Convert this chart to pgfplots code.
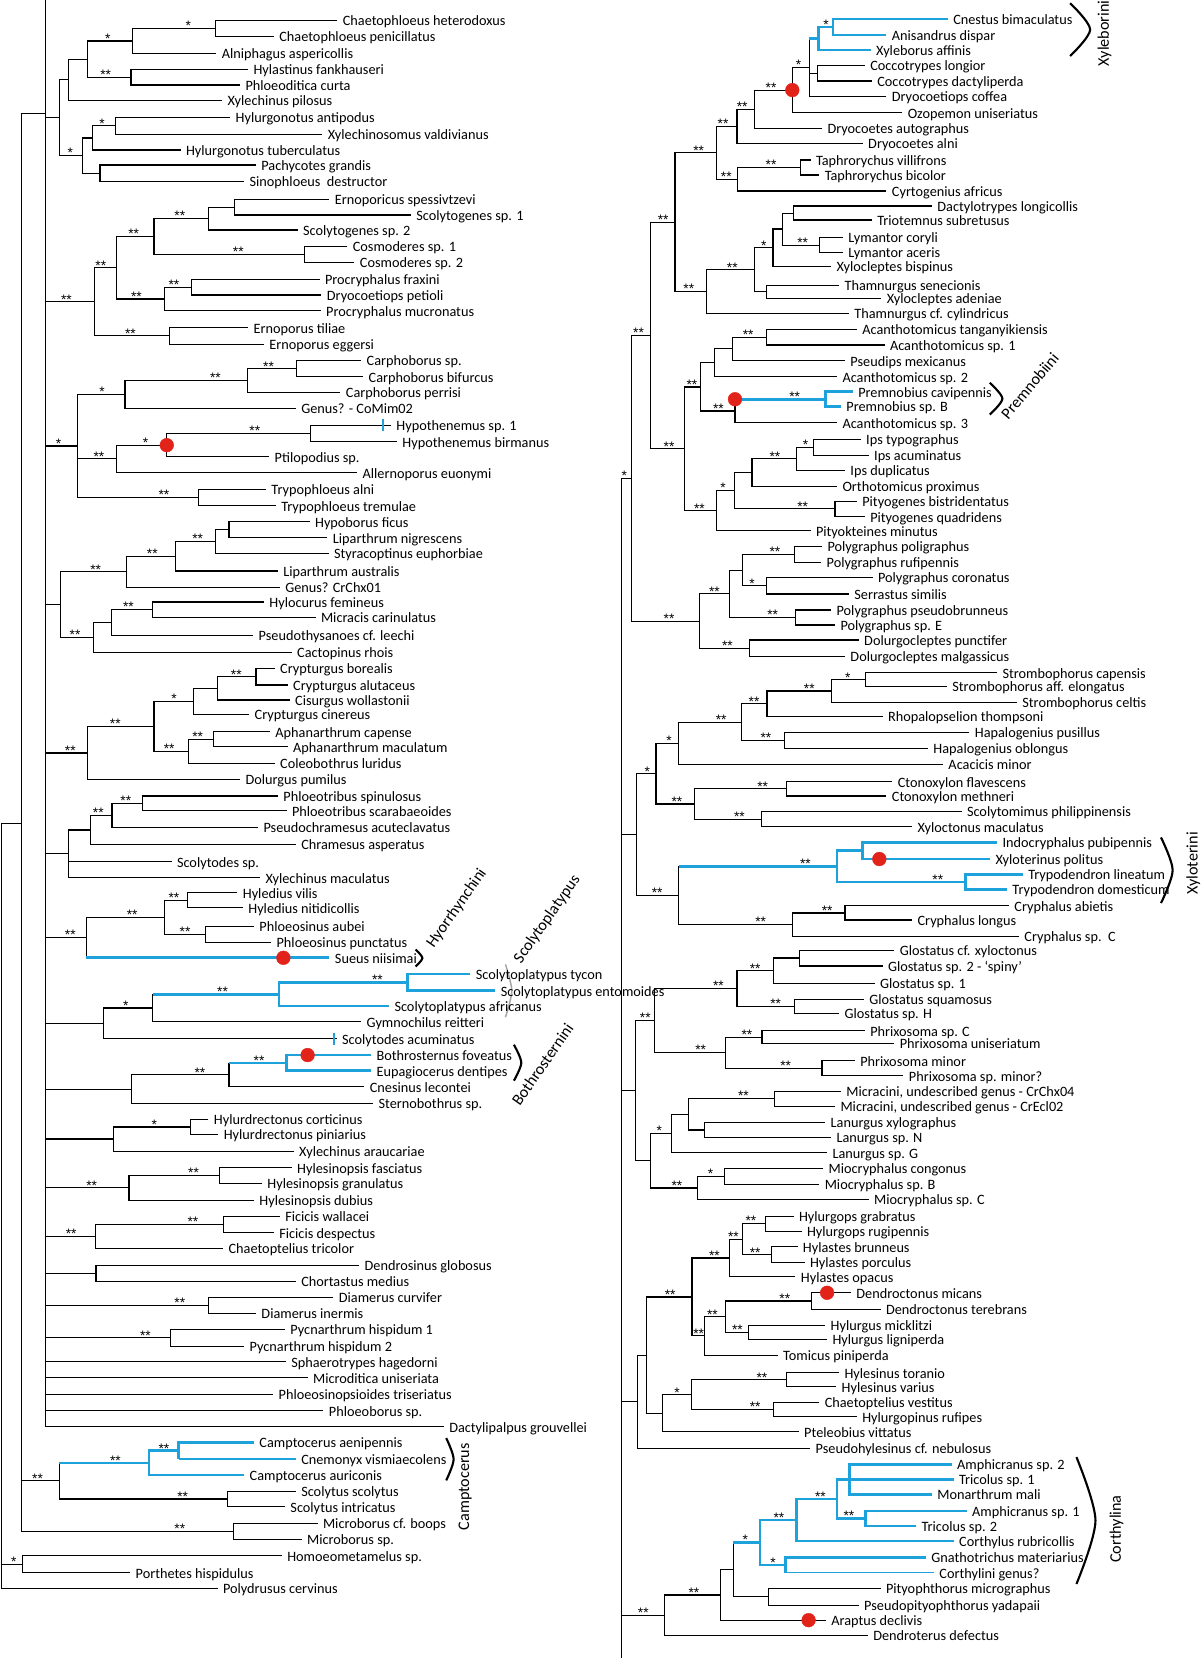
\documentclass[border=0pt]{standalone}
\usepackage{fontspec}
\setmainfont{Carlito}
\newfontfamily\starfam{Liberation Sans}
\usepackage{pgfplots}
\pgfplotsset{compat=1.18}
\definecolor{cblue}{RGB}{30,162,220}
\definecolor{cred}{RGB}{226,35,26}
\newcommand{\tipfont}{\fontsize{13.5}{14}\selectfont}
\newcommand{\starfont}{\starfam\fontsize{13}{13}\selectfont}
\newcommand{\cladefont}{\fontsize{15.3}{16}\selectfont}
\newcommand{\ds}{**}
\newcommand{\tl}[3]{\node[anchor=base west,inner sep=0pt,font=\tipfont,xshift=5pt,yshift=-5pt] at (axis cs:#1,#2) {#3};}
\newcommand{\st}[3]{\node[anchor=base,inner sep=0pt,font=\starfont,yshift=-2.2pt] at (axis cs:#1,#2) {#3};}
\begin{document}
\begin{tikzpicture}
\begin{axis}[scale only axis, width=1135pt, height=1568pt, xmin=0, xmax=1135, ymin=0, ymax=1568,
  y dir=reverse, hide axis, clip=false]
% ---------- left panel, black branches
\addplot[black, line width=1.05pt, mark=none, unbounded coords=jump, line join=miter] coordinates {
(319,19.5)(203.8,19.5)(203.8,34.7)(259,34.7)(nan,nan)
(203.8,27.1)(125,27.1)(125,50.4)(204.6,50.4)(nan,nan)
(234.6,65.6)(123.9,65.6)(123.9,80.4)(227,80.4)(nan,nan)
(125,38.8)(82.6,38.8)(82.6,73)(123.9,73)(nan,nan)
(82.6,55.9)(64.6,55.9)(64.6,95.2)(210,95.2)(nan,nan)
(217.7,111)(108.9,111)(108.9,127)(304.8,127)(nan,nan)
(108.9,119)(87.1,119)(87.1,141.9)(170.8,141.9)(nan,nan)
(242,156)(94.6,156)(94.6,171.8)(230.9,171.8)(nan,nan)
(87.1,130.5)(78.1,130.5)(78.1,163.9)(94.6,163.9)(nan,nan)
(64.6,75.6)(56.3,75.6)(56.3,147.2)(78.1,147.2)(nan,nan)
(311.6,188.5)(221.5,188.5)(221.5,203.3)(388.5,203.3)(nan,nan)
(221.5,195.9)(197.1,195.9)(197.1,217.5)(281.5,217.5)(nan,nan)
(328.5,233.3)(288.3,233.3)(288.3,248.1)(335.2,248.1)(nan,nan)
(197.1,206.7)(145.6,206.7)(145.6,240.7)(288.3,240.7)(nan,nan)
(302.2,264.2)(180.9,264.2)(180.9,279)(304,279)(nan,nan)
(180.9,271.6)(155.8,271.6)(155.8,293.9)(303.3,293.9)(nan,nan)
(145.6,223.7)(110,223.7)(110,282.8)(155.8,282.8)(nan,nan)
(234.6,310)(160.7,310)(160.7,325.4)(249.6,325.4)(nan,nan)
(110,253.2)(89.3,253.2)(89.3,317.7)(160.7,317.7)(nan,nan)
(341.6,341.1)(280.4,341.1)(280.4,356.3)(343.5,356.3)(nan,nan)
(280.4,348.7)(233.9,348.7)(233.9,371.1)(322,371.1)(nan,nan)
(233.9,359.9)(118.2,359.9)(118.2,386.2)(279.7,386.2)(nan,nan)
(369.7,402)(293.9,402)(293.9,417.8)(375.4,417.8)(nan,nan)
(293.9,409.9)(157.7,409.9)(157.7,432)(254.5,432)(nan,nan)
(157.7,421)(110,421)(110,447.1)(337.8,447.1)(nan,nan)
(251.5,462.8)(187.7,462.8)(187.7,478.3)(260.9,478.3)(nan,nan)
(118.2,373)(73.2,373)(73.2,470.5)(187.7,470.5)(nan,nan)
(73.2,434)(110,434)(nan,nan)
(292.8,493.4)(216.6,493.4)(216.6,508.6)(309.7,508.6)(nan,nan)
(216.6,501)(203.5,501)(203.5,523.3)(310.8,523.3)(nan,nan)
(203.5,512.2)(165.9,512.2)(165.9,540)(262.8,540)(nan,nan)
(165.9,526.1)(119.4,526.1)(119.4,555.5)(264.6,555.5)(nan,nan)
(249.6,569.3)(143.8,569.3)(143.8,583.8)(298.4,583.8)(nan,nan)
(143.8,576.5)(105.1,576.5)(105.1,600.9)(239.5,600.9)(nan,nan)
(105.1,588.7)(88.2,588.7)(88.2,617)(275.9,617)(nan,nan)
(119.4,540.8)(57.1,540.8)(57.1,602.9)(88.2,602.9)(nan,nan)
(259.8,632.1)(242.1,632.1)(242.1,647.8)(272.1,647.8)(nan,nan)
(242.1,640)(205.7,640)(205.7,662)(274,662)(nan,nan)
(205.7,651)(182.8,651)(182.8,675.9)(235.7,675.9)(nan,nan)
(255.3,692)(201.6,692)(201.6,706.2)(272.1,706.2)(nan,nan)
(201.6,699.1)(178.3,699.1)(178.3,721.9)(259.8,721.9)(nan,nan)
(182.8,663.5)(145.6,663.5)(145.6,710.5)(178.3,710.5)(nan,nan)
(145.6,687)(82.6,687)(82.6,737.1)(227.1,737.1)(nan,nan)
(262.8,752.8)(135.1,752.8)(135.1,766.7)(271,766.7)(nan,nan)
(135.1,759.8)(105.9,759.8)(105.9,782.5)(244,782.5)(nan,nan)
(105.9,771.2)(85.6,771.2)(85.6,798.6)(279.7,798.6)(nan,nan)
(85.6,784.9)(64.9,784.9)(64.9,830.1)(245.9,830.1)(nan,nan)
(64.9,815)(162.2,815)(nan,nan)
(224.5,844.3)(177.6,844.3)(177.6,858.5)(229.7,858.5)(nan,nan)
(240.2,875.8)(194.1,875.8)(194.1,891)(256.4,891)(nan,nan)
(177.6,851.4)(155.8,851.4)(155.8,883.4)(194.1,883.4)(nan,nan)
(155.8,867.4)(81.8,867.4)(81.8,905.8)(nan,nan)
(144.5,940.3)(144.5,966.3)(341.6,966.3)(nan,nan)
(144.5,953.3)(98.3,953.3)(98.3,982.4)(318.3,982.4)(nan,nan)
(216.6,1005.2)(216.6,1027.8)(344.6,1027.8)(nan,nan)
(216.6,1016.5)(124.6,1016.5)(124.6,1043.6)(352.9,1043.6)(nan,nan)
(197.1,1058.7)(180.2,1058.7)(180.2,1072.9)(206.5,1072.9)(nan,nan)
(180.2,1065.8)(107,1065.8)(107,1088.7)(277.8,1088.7)(nan,nan)
(275.9,1104.4)(207.6,1104.4)(207.6,1119.2)(247.7,1119.2)(nan,nan)
(207.6,1111.8)(122,1111.8)(122,1135)(240.2,1135)(nan,nan)
(264.6,1150.1)(211.3,1150.1)(211.3,1165.9)(259,1165.9)(nan,nan)
(211.3,1158)(90.1,1158)(90.1,1180.7)(211,1180.7)(nan,nan)
(339.7,1196.5)(90.8,1196.5)(90.8,1211.6)(279.7,1211.6)(nan,nan)
(315.3,1227.1)(197.1,1227.1)(197.1,1242.2)(242.1,1242.2)(nan,nan)
(269.5,1257.3)(161.4,1257.3)(161.4,1273.1)(230.9,1273.1)(nan,nan)
(43,0)(43,1349.3)(419.7,1349.3)(nan,nan)
(43,111.4)(56.3,111.4)(nan,nan)
(43,285.5)(89.3,285.5)(nan,nan)
(43,421.8)(73.2,421.8)(nan,nan)
(43,571.8)(57.1,571.8)(nan,nan)
(43,712.1)(82.6,712.1)(nan,nan)
(43,807.5)(64.9,807.5)(nan,nan)
(43,886.6)(81.8,886.6)(nan,nan)
(43,967.9)(98.3,967.9)(nan,nan)
(43,1030)(124.6,1030)(nan,nan)
(43,1077.2)(107,1077.2)(nan,nan)
(43,1123.4)(122,1123.4)(nan,nan)
(43,1169.4)(90.1,1169.4)(nan,nan)
(43,1204)(90.8,1204)(nan,nan)
(43,1234.6)(197.1,1234.6)(nan,nan)
(43,1265.2)(161.4,1265.2)(nan,nan)
(43,1287.8)(270.3,1287.8)(nan,nan)
(43,1303)(290.9,1303)(nan,nan)
(43,1318.4)(258.3,1318.4)(nan,nan)
(43,1334.2)(305.9,1334.2)(nan,nan)
(279.7,1410.2)(215,1410.2)(215,1425)(269.5,1425)(nan,nan)
(56,1383.5)(56,1417.6)(215,1417.6)(nan,nan)
(300.3,1440.7)(220.6,1440.7)(220.6,1455.9)(285.3,1455.9)(nan,nan)
(43,107.2)(20.6,107.2)(20.6,1448.3)(220.6,1448.3)(nan,nan)
(20.6,1400.5)(56,1400.5)(nan,nan)
(266.5,1471.3)(21.3,1471.3)(21.3,1487.4)(123.1,1487.4)(nan,nan)
(20.6,778.7)(1.5,778.7)(1.5,1501.9)(205.7,1501.9)(nan,nan)
(1.5,1479.3)(21.3,1479.3)
};
% ---------- right panel, black branches
\addplot[black, line width=1.05pt, mark=none, unbounded coords=jump, line join=miter] coordinates {
(817.8,62.1)(772.9,62.1)(772.9,76.6)(824.5,76.6)(nan,nan)
(765.4,36.4)(765.4,91.4)(838.3,91.4)(nan,nan)
(765.4,69.3)(772.9,69.3)(nan,nan)
(765.4,63.9)(749.3,63.9)(749.3,106.6)(853.3,106.6)(nan,nan)
(749.3,85.2)(713.8,85.2)(713.8,121.4)(777.4,121.4)(nan,nan)
(713.8,103.3)(697,103.3)(697,135.6)(815.9,135.6)(nan,nan)
(766.5,151.3)(757.2,151.3)(757.2,165.5)(774.8,165.5)(nan,nan)
(757.2,158.4)(697.4,158.4)(697.4,180.6)(838.3,180.6)(nan,nan)
(697,119.5)(677.6,119.5)(677.6,169.5)(697.4,169.5)(nan,nan)
(881.3,194.8)(750.5,194.8)(750.5,208.1)(824.5,208.1)(nan,nan)
(797.2,224.8)(774.8,224.8)(774.8,238.7)(797.2,238.7)(nan,nan)
(750.5,201.5)(740.4,201.5)(740.4,231.8)(774.8,231.8)(nan,nan)
(740.4,216.6)(731,216.6)(731,252.2)(786,252.2)(nan,nan)
(793.5,269.6)(725,269.6)(725,282.2)(833.5,282.2)(nan,nan)
(731,234.4)(713.8,234.4)(713.8,275.9)(725,275.9)(nan,nan)
(713.8,255.2)(668.2,255.2)(668.2,296.4)(802.8,296.4)(nan,nan)
(677.6,144.5)(638.3,144.5)(638.3,275.8)(668.2,275.8)(nan,nan)
(810.3,311.5)(725,311.5)(725,326.3)(836.5,326.3)(nan,nan)
(725,318.9)(692.5,318.9)(692.5,341.2)(799.1,341.2)(nan,nan)
(692.5,330)(675.7,330)(675.7,356.3)(791.6,356.3)(nan,nan)
(695.1,377.6)(695.1,399.8)(791.6,399.8)(nan,nan)
(675.7,343.2)(662.6,343.2)(662.6,388.7)(695.1,388.7)(nan,nan)
(814,415.5)(769.2,415.5)(769.2,430.4)(821.5,430.4)(nan,nan)
(769.2,423)(753.1,423)(753.1,444.6)(799.1,444.6)(nan,nan)
(753.1,433.8)(711.2,433.8)(711.2,459.7)(791.6,459.7)(nan,nan)
(810.3,473.9)(789.7,473.9)(789.7,488.7)(817.8,488.7)(nan,nan)
(711.2,446.8)(694.4,446.8)(694.4,481.3)(789.7,481.3)(nan,nan)
(694.4,464)(677.6,464)(677.6,501.9)(766.5,501.9)(nan,nan)
(662.6,366)(647.7,366)(647.7,483)(677.6,483)(nan,nan)
(638.3,210.2)(615.1,210.2)(615.1,424.5)(647.7,424.5)(nan,nan)
(777.4,517)(751.6,517)(751.6,531.8)(776.6,531.8)(nan,nan)
(825.2,546.3)(725,546.3)(725,561.8)(802.8,561.8)(nan,nan)
(751.6,524.4)(701.9,524.4)(701.9,554)(725,554)(nan,nan)
(786,576.9)(752.3,576.9)(752.3,591.1)(789.7,591.1)(nan,nan)
(701.9,539.2)(689.9,539.2)(689.9,584)(752.3,584)(nan,nan)
(812.1,605.3)(708.6,605.3)(708.6,621)(799.1,621)(nan,nan)
(689.9,561.6)(661.9,561.6)(661.9,613.2)(708.6,613.2)(nan,nan)
(615.1,317.3)(597.2,317.3)(597.2,587.4)(661.9,587.4)(nan,nan)
(943,636.2)(818.5,636.2)(818.5,649.4)(895.5,649.4)(nan,nan)
(818.5,642.8)(786,642.8)(786,664.2)(961.7,664.2)(nan,nan)
(786,653.5)(725.4,653.5)(725.4,677.8)(834.6,677.8)(nan,nan)
(916.8,692.6)(741.9,692.6)(741.9,707.7)(877.6,707.7)(nan,nan)
(725.4,665.7)(701.1,665.7)(701.1,700.2)(741.9,700.2)(nan,nan)
(701.1,683)(641.3,683)(641.3,722.9)(891.8,722.9)(nan,nan)
(843.9,739.3)(743.7,739.3)(743.7,752.8)(838.3,752.8)(nan,nan)
(909.3,767.6)(719.8,767.6)(719.8,781.9)(862.6,781.9)(nan,nan)
(743.7,746)(657,746)(657,774.8)(719.8,774.8)(nan,nan)
(641.3,703)(620.4,703)(620.4,760.4)(657,760.4)(nan,nan)
(954.2,856.6)(799.1,856.6)(799.1,870.1)(862.6,870.1)(nan,nan)
(799.1,863.4)(749.3,863.4)(749.3,885.3)(963.6,885.3)(nan,nan)
(642,819.3)(642,874.3)(749.3,874.3)(nan,nan)
(620.4,731.7)(602.1,731.7)(602.1,846.8)(642,846.8)(nan,nan)
(845.8,898.5)(756,898.5)(756,913.6)(834.6,913.6)(nan,nan)
(756,906)(731.8,906)(731.8,930)(827.1,930)(nan,nan)
(817,945.2)(751.6,945.2)(751.6,958.4)(793.5,958.4)(nan,nan)
(731.8,918)(697,918)(697,951.8)(751.6,951.8)(nan,nan)
(817.8,974.8)(720.6,974.8)(720.6,986.8)(845.8,986.8)(nan,nan)
(808.4,1003.2)(777.4,1003.2)(777.4,1017.4)(854.4,1017.4)(nan,nan)
(720.6,980.8)(685.8,980.8)(685.8,1010.3)(777.4,1010.3)(nan,nan)
(697,934.9)(618.9,934.9)(618.9,995.5)(685.8,995.5)(nan,nan)
(795.3,1031.9)(732.5,1031.9)(732.5,1046.1)(789.7,1046.1)(nan,nan)
(780.4,1061.5)(666.4,1061.5)(666.4,1075.7)(786,1075.7)(nan,nan)
(732.5,1039)(650.7,1039)(650.7,1068.6)(666.4,1068.6)(nan,nan)
(650.7,1053.8)(635.3,1053.8)(635.3,1090.2)(782.2,1090.2)(nan,nan)
(778.5,1105)(685.1,1105)(685.1,1120.2)(774.8,1120.2)(nan,nan)
(685.1,1112.6)(660,1112.6)(660,1134.4)(821.5,1134.4)(nan,nan)
(635.3,1072)(615.1,1072)(615.1,1123.5)(660,1123.5)(nan,nan)
(618.9,965.2)(600.9,965.2)(600.9,1097.8)(615.1,1097.8)(nan,nan)
(750.5,1150.1)(724.3,1150.1)(724.3,1164.3)(758,1164.3)(nan,nan)
(754.2,1179.1)(729.9,1179.1)(729.9,1194)(760.9,1194)(nan,nan)
(724.3,1157.2)(702.6,1157.2)(702.6,1186.6)(729.9,1186.6)(nan,nan)
(702.6,1171.9)(689.9,1171.9)(689.9,1207.5)(752.3,1207.5)(nan,nan)
(804.7,1222.6)(767.3,1222.6)(767.3,1238.1)(832.7,1238.1)(nan,nan)
(780.4,1253.2)(707.5,1253.2)(707.5,1266.8)(782.2,1266.8)(nan,nan)
(767.3,1230.4)(685.8,1230.4)(685.8,1260)(707.5,1260)(nan,nan)
(685.8,1245.2)(666.4,1245.2)(666.4,1281.6)(735.5,1281.6)(nan,nan)
(689.9,1189.7)(654.4,1189.7)(654.4,1263.4)(666.4,1263.4)(nan,nan)
(793.5,1298.2)(743.7,1298.2)(743.7,1311.5)(790.8,1311.5)(nan,nan)
(774.8,1326.3)(731.8,1326.3)(731.8,1339.9)(810.3,1339.9)(nan,nan)
(743.7,1304.9)(654,1304.9)(654,1333.1)(731.8,1333.1)(nan,nan)
(654,1319)(626.4,1319)(626.4,1354)(755.3,1354)(nan,nan)
(654.4,1226.6)(611.4,1226.6)(611.4,1336.5)(626.4,1336.5)(nan,nan)
(611.4,1281.5)(602.8,1281.5)(602.8,1369.8)(766.2,1369.8)(nan,nan)
(832.7,1502.2)(726.9,1502.2)(726.9,1518)(812.1,1518)(nan,nan)
(693.3,1458.8)(693.3,1510.1)(726.9,1510.1)(nan,nan)
(693.3,1484.5)(681.3,1484.5)(681.3,1532.2)(781.1,1532.2)(nan,nan)
(681.3,1508.4)(628.2,1508.4)(628.2,1546.3)(820.7,1546.3)(nan,nan)
(587.9,452.3)(587.9,1568)(nan,nan)
(587.9,452.3)(597.2,452.3)(nan,nan)
(587.9,789.3)(602.1,789.3)(nan,nan)
(587.9,1031.5)(600.9,1031.5)(nan,nan)
(587.9,1325.7)(602.8,1325.7)(nan,nan)
(587.9,1527.4)(628.2,1527.4)
};
% ---------- blue (thick) branches
\addplot[cblue, line width=2.5pt, mark=none, unbounded coords=jump, line join=miter] coordinates {
(81.8,905.8)(311.6,905.8)(nan,nan)
(144.5,940.3)(263.9,940.3)(nan,nan)
(385.5,929.1)(263.9,929.1)(263.9,951.5)(367.9,951.5)(nan,nan)
(444.8,921.2)(385.5,921.2)(385.5,937)(468.5,937)(nan,nan)
(216.6,1005.2)(271,1005.2)(nan,nan)
(351,997.8)(271,997.8)(271,1012.6)(351,1012.6)(nan,nan)
(56,1383.5)(140.9,1383.5)(nan,nan)
(169,1372)(140.9,1372)(140.9,1395)(230.9,1395)(nan,nan)
(240.2,1364.1)(169,1364.1)(169,1379.9)(nan,nan)
(765.4,36.4)(774,36.4)(nan,nan)
(787.9,25.5)(774,25.5)(774,47.3)(823.4,47.3)(nan,nan)
(896.3,18)(787.9,18)(787.9,33.1)(838.3,33.1)(nan,nan)
(695.1,377.6)(780.4,377.6)(nan,nan)
(806.5,370.5)(780.4,370.5)(780.4,384.6)(795.3,384.6)(nan,nan)
(642,819.3)(791.6,819.3)(nan,nan)
(815.9,804.5)(791.6,804.5)(791.6,834)(913.1,834)(nan,nan)
(943,796.7)(815.9,796.7)(815.9,812.4)(936.3,812.4)(nan,nan)
(967.3,827)(913.1,827)(913.1,841.1)(952.3,841.1)(nan,nan)
(693.3,1458.8)(718.7,1458.8)(nan,nan)
(753.5,1437.5)(718.7,1437.5)(718.7,1480.1)(743,1480.1)(nan,nan)
(791.6,1417.5)(753.5,1417.5)(753.5,1457.4)(901.9,1457.4)(nan,nan)
(803.6,1399.1)(791.6,1399.1)(791.6,1436)(818.5,1436)(nan,nan)
(900,1384.9)(803.6,1384.9)(803.6,1413.3)(881.3,1413.3)(nan,nan)
(803.6,1399.1)(901.9,1399.1)(nan,nan)
(914.2,1428.8)(818.5,1428.8)(818.5,1443.3)(866.4,1443.3)(nan,nan)
(875.7,1472.9)(743,1472.9)(743,1487.4)
};
% thin blue
\addplot[cblue, line width=1.3pt, mark=none, unbounded coords=jump] coordinates {
(169,1379.9)(279.7,1379.9)(nan,nan)(743,1487.4)(883.2,1487.4)
};
% blue ticks
\addplot[cblue, line width=1.6pt, mark=none, unbounded coords=jump] coordinates {
(362,396)(362,408)(nan,nan)(316,976.5)(316,988.5)
};
% red dots
\addplot[only marks, mark=*, mark size=6.5pt, color=cred, mark options={draw=cred, fill=cred}] coordinates {
(157.7,421)(268,905.8)(290.9,997.8)(749.3,85.2)(695.1,377.6)(831.6,812.4)(782.2,1222.6)(764.7,1532.2)
};
% brackets
\addplot[black, line width=2pt, mark=none, smooth] coordinates {(393,898)(399.5,906)(393,914)};
\addplot[black!35, line width=1.4pt, mark=none, smooth] coordinates {(478,912)(484,937)(478,962)};
\addplot[black, line width=2pt, mark=none, smooth] coordinates {(486,988)(493,1005)(486,1022)};
\addplot[black, line width=2pt, mark=none, smooth] coordinates {(422,1360)(429,1380)(422,1400)};
\addplot[black, line width=2pt, mark=none, smooth] coordinates {(1012,3)(1031,28)(1012,53)};
\addplot[black, line width=2pt, mark=none, smooth] coordinates {(936,362)(948,377)(936,392)};
\addplot[black, line width=2pt, mark=none, smooth] coordinates {(1098,792)(1109,823)(1098,854)};
\addplot[black, line width=2pt, mark=none, smooth] coordinates {(1018,1378)(1036,1438)(1018,1498)};
% clade labels
\node[rotate=55,font=\cladefont,inner sep=0pt] at (axis cs:432,859) {Hyorrhynchini};
\node[rotate=55,font=\cladefont,inner sep=0pt] at (axis cs:517.5,869.3) {Scolytoplatypus};
\node[rotate=55,font=\cladefont,inner sep=0pt] at (axis cs:513,1006.5) {Bothrosternini};
\node[rotate=50,font=\cladefont,inner sep=0pt] at (axis cs:973.8,365) {Premnobiini};
\node[rotate=90,font=\cladefont,inner sep=0pt] at (axis cs:440,1406) {Camptocerus};
\node[rotate=90,font=\cladefont,inner sep=0pt] at (axis cs:1044.5,31.5) {Xyleborini};
\node[rotate=90,font=\cladefont,inner sep=0pt] at (axis cs:1128.5,816.5) {Xyloterini};
\node[rotate=90,font=\cladefont,inner sep=0pt] at (axis cs:1056,1446) {Corthylina};
% ---------- tip labels left
\tl{319}{19.5}{Chaetophloeus heterodoxus}
\tl{259}{34.7}{Chaetophloeus penicillatus}
\tl{204.6}{50.4}{Alniphagus aspericollis}
\tl{234.6}{65.6}{Hylastinus fankhauseri}
\tl{227}{80.4}{Phloeoditica curta}
\tl{210}{95.2}{Xylechinus pilosus}
\tl{217.7}{111}{Hylurgonotus antipodus}
\tl{304.8}{127}{Xylechinosomus valdivianus}
\tl{170.8}{141.9}{Hylurgonotus tuberculatus}
\tl{242}{156}{Pachycotes grandis}
\tl{230.9}{171.8}{Sinophloeus~~destructor}
\tl{311.6}{188.5}{Ernoporicus spessivtzevi}
\tl{388.5}{203.3}{Scolytogenes sp. 1}
\tl{281.5}{217.5}{Scolytogenes sp. 2}
\tl{328.5}{233.3}{Cosmoderes sp. 1}
\tl{335.2}{248.1}{Cosmoderes sp. 2}
\tl{302.2}{264.2}{Procryphalus fraxini}
\tl{304}{279}{Dryocoetiops petioli}
\tl{303.3}{293.9}{Procryphalus mucronatus}
\tl{234.6}{310}{Ernoporus tiliae}
\tl{249.6}{325.4}{Ernoporus eggersi}
\tl{341.6}{341.1}{Carphoborus sp.}
\tl{343.5}{356.3}{Carphoborus bifurcus}
\tl{322}{371.1}{Carphoborus perrisi}
\tl{279.7}{386.2}{Genus? - CoMim02}
\tl{369.7}{402}{Hypothenemus sp. 1}
\tl{375.4}{417.8}{Hypothenemus birmanus}
\tl{254.5}{432}{Ptilopodius sp.}
\tl{337.8}{447.1}{Allernoporus euonymi}
\tl{251.5}{462.8}{Trypophloeus alni}
\tl{260.9}{478.3}{Trypophloeus tremulae}
\tl{292.8}{493.4}{Hypoborus ficus}
\tl{309.7}{508.6}{Liparthrum nigrescens}
\tl{310.8}{523.3}{Styracoptinus euphorbiae}
\tl{262.8}{540}{Liparthrum australis}
\tl{264.6}{555.5}{Genus? CrChx01}
\tl{249.6}{569.3}{Hylocurus femineus}
\tl{298.4}{583.8}{Micracis carinulatus}
\tl{239.5}{600.9}{Pseudothysanoes cf. leechi}
\tl{275.9}{617}{Cactopinus rhois}
\tl{259.8}{632.1}{Crypturgus borealis}
\tl{272.1}{647.8}{Crypturgus alutaceus}
\tl{274}{662}{Cisurgus wollastonii}
\tl{235.7}{675.9}{Crypturgus cinereus}
\tl{255.3}{692}{Aphanarthrum capense}
\tl{272.1}{706.2}{Aphanarthrum maculatum}
\tl{259.8}{721.9}{Coleobothrus luridus}
\tl{227.1}{737.1}{Dolurgus pumilus}
\tl{262.8}{752.8}{Phloeotribus spinulosus}
\tl{271}{766.7}{Phloeotribus scarabaeoides}
\tl{244}{782.5}{Pseudochramesus acuteclavatus}
\tl{279.7}{798.6}{Chramesus asperatus}
\tl{162.2}{815}{Scolytodes sp.}
\tl{245.9}{830.1}{Xylechinus maculatus}
\tl{224.5}{844.3}{Hyledius vilis}
\tl{229.7}{858.5}{Hyledius nitidicollis}
\tl{240.2}{875.8}{Phloeosinus aubei}
\tl{256.4}{891}{Phloeosinus punctatus}
\tl{311.6}{905.8}{Sueus niisimai}
\tl{444.8}{921.2}{Scolytoplatypus tycon}
\tl{468.5}{937}{Scolytoplatypus entomoides}
\tl{367.9}{951.5}{Scolytoplatypus africanus}
\tl{341.6}{966.3}{Gymnochilus reitteri}
\tl{318.3}{982.4}{Scolytodes acuminatus}
\tl{351}{997.8}{Bothrosternus foveatus}
\tl{351}{1012.6}{Eupagiocerus dentipes}
\tl{344.6}{1027.8}{Cnesinus lecontei}
\tl{352.9}{1043.6}{Sternobothrus sp.}
\tl{197.1}{1058.7}{Hylurdrectonus corticinus}
\tl{206.5}{1072.9}{Hylurdrectonus piniarius}
\tl{277.8}{1088.7}{Xylechinus araucariae}
\tl{275.9}{1104.4}{Hylesinopsis fasciatus}
\tl{247.7}{1119.2}{Hylesinopsis granulatus}
\tl{240.2}{1135}{Hylesinopsis dubius}
\tl{264.6}{1150.1}{Ficicis wallacei}
\tl{259}{1165.9}{Ficicis despectus}
\tl{211}{1180.7}{Chaetoptelius tricolor}
\tl{339.7}{1196.5}{Dendrosinus globosus}
\tl{279.7}{1211.6}{Chortastus medius}
\tl{315.3}{1227.1}{Diamerus curvifer}
\tl{242.1}{1242.2}{Diamerus inermis}
\tl{269.5}{1257.3}{Pycnarthrum hispidum 1}
\tl{230.9}{1273.1}{Pycnarthrum hispidum 2}
\tl{270.3}{1287.8}{Sphaerotrypes hagedorni}
\tl{290.9}{1303}{Microditica uniseriata}
\tl{258.3}{1318.4}{Phloeosinopsioides triseriatus}
\tl{305.9}{1334.2}{Phloeoborus sp.}
\tl{419.7}{1349.3}{Dactylipalpus grouvellei}
\tl{240.2}{1364.1}{Camptocerus aenipennis}
\tl{279.7}{1379.9}{Cnemonyx vismiaecolens}
\tl{230.9}{1395}{Camptocerus auriconis}
\tl{279.7}{1410.2}{Scolytus scolytus}
\tl{269.5}{1425}{Scolytus intricatus}
\tl{300.3}{1440.7}{Microborus cf. boops}
\tl{285.3}{1455.9}{Microborus sp.}
\tl{266.5}{1471.3}{Homoeometamelus sp.}
\tl{123.1}{1487.4}{Porthetes hispidulus}
\tl{205.7}{1501.9}{Polydrusus cervinus}
% ---------- tip labels right
\tl{896.3}{18}{Cnestus bimaculatus}
\tl{838.3}{33.1}{Anisandrus dispar}
\tl{823.4}{47.3}{Xyleborus affinis}
\tl{817.8}{62.1}{Coccotrypes longior}
\tl{824.5}{76.6}{Coccotrypes dactyliperda}
\tl{838.3}{91.4}{Dryocoetiops coffea}
\tl{853.3}{106.6}{Ozopemon uniseriatus}
\tl{777.4}{121.4}{Dryocoetes autographus}
\tl{815.9}{135.6}{Dryocoetes alni}
\tl{766.5}{151.3}{Taphrorychus villifrons}
\tl{774.8}{165.5}{Taphrorychus bicolor}
\tl{838.3}{180.6}{Cyrtogenius africus}
\tl{881.3}{194.8}{Dactylotrypes longicollis}
\tl{824.5}{208.1}{Triotemnus subretusus}
\tl{797.2}{224.8}{Lymantor coryli}
\tl{797.2}{238.7}{Lymantor aceris}
\tl{786}{252.2}{Xylocleptes bispinus}
\tl{793.5}{269.6}{Thamnurgus senecionis}
\tl{833.5}{282.2}{Xylocleptes adeniae}
\tl{802.8}{296.4}{Thamnurgus cf. cylindricus}
\tl{810.3}{311.5}{Acanthotomicus tanganyikiensis}
\tl{836.5}{326.3}{Acanthotomicus sp. 1}
\tl{799.1}{341.2}{Pseudips mexicanus}
\tl{791.6}{356.3}{Acanthotomicus sp. 2}
\tl{806.5}{370.5}{Premnobius cavipennis}
\tl{795.3}{384.6}{Premnobius sp. B}
\tl{791.6}{399.8}{Acanthotomicus sp. 3}
\tl{814}{415.5}{Ips typographus}
\tl{821.5}{430.4}{Ips acuminatus}
\tl{799.1}{444.6}{Ips duplicatus}
\tl{791.6}{459.7}{Orthotomicus proximus}
\tl{810.3}{473.9}{Pityogenes bistridentatus}
\tl{817.8}{488.7}{Pityogenes quadridens}
\tl{766.5}{501.9}{Pityokteines minutus}
\tl{777.4}{517}{Polygraphus poligraphus}
\tl{776.6}{531.8}{Polygraphus rufipennis}
\tl{825.2}{546.3}{Polygraphus coronatus}
\tl{802.8}{561.8}{Serrastus similis}
\tl{786}{576.9}{Polygraphus pseudobrunneus}
\tl{789.7}{591.1}{Polygraphus sp. E}
\tl{812.1}{605.3}{Dolurgocleptes punctifer}
\tl{799.1}{621}{Dolurgocleptes malgassicus}
\tl{943}{636.2}{Strombophorus capensis}
\tl{895.5}{649.4}{Strombophorus aff. elongatus}
\tl{961.7}{664.2}{Strombophorus celtis}
\tl{834.6}{677.8}{Rhopalopselion thompsoni}
\tl{916.8}{692.6}{Hapalogenius pusillus}
\tl{877.6}{707.7}{Hapalogenius oblongus}
\tl{891.8}{722.9}{Acacicis minor}
\tl{843.9}{739.3}{Ctonoxylon flavescens}
\tl{838.3}{752.8}{Ctonoxylon methneri}
\tl{909.3}{767.6}{Scolytomimus philippinensis}
\tl{862.6}{781.9}{Xyloctonus maculatus}
\tl{943}{796.7}{Indocryphalus pubipennis}
\tl{936.3}{812.4}{Xyloterinus politus}
\tl{967.3}{827}{Trypodendron lineatum}
\tl{952.3}{841.1}{Trypodendron domesticum}
\tl{954.2}{856.6}{Cryphalus abietis}
\tl{862.6}{870.1}{Cryphalus longus}
\tl{963.6}{885.3}{Cryphalus sp.~~C}
\tl{845.8}{898.5}{Glostatus cf. xyloctonus}
\tl{834.6}{913.6}{Glostatus sp. 2 - `spiny'}
\tl{827.1}{930}{Glostatus sp. 1}
\tl{817}{945.2}{Glostatus squamosus}
\tl{793.5}{958.4}{Glostatus sp. H}
\tl{817.8}{974.8}{Phrixosoma sp. C}
\tl{845.8}{986.8}{Phrixosoma uniseriatum}
\tl{808.4}{1003.2}{Phrixosoma minor}
\tl{854.4}{1017.4}{Phrixosoma sp. minor?}
\tl{795.3}{1031.9}{Micracini, undescribed genus - CrChx04}
\tl{789.7}{1046.1}{Micracini, undescribed genus - CrEcl02}
\tl{780.4}{1061.5}{Lanurgus xylographus}
\tl{786}{1075.7}{Lanurgus sp. N}
\tl{782.2}{1090.2}{Lanurgus sp. G}
\tl{778.5}{1105}{Miocryphalus congonus}
\tl{774.8}{1120.2}{Miocryphalus sp. B}
\tl{821.5}{1134.4}{Miocryphalus sp. C}
\tl{750.5}{1150.1}{Hylurgops grabratus}
\tl{758}{1164.3}{Hylurgops rugipennis}
\tl{754.2}{1179.1}{Hylastes brunneus}
\tl{760.9}{1194}{Hylastes porculus}
\tl{752.3}{1207.5}{Hylastes opacus}
\tl{804.7}{1222.6}{Dendroctonus micans}
\tl{832.7}{1238.1}{Dendroctonus terebrans}
\tl{780.4}{1253.2}{Hylurgus micklitzi}
\tl{782.2}{1266.8}{Hylurgus ligniperda}
\tl{735.5}{1281.6}{Tomicus piniperda}
\tl{793.5}{1298.2}{Hylesinus toranio}
\tl{790.8}{1311.5}{Hylesinus varius}
\tl{774.8}{1326.3}{Chaetoptelius vestitus}
\tl{810.3}{1339.9}{Hylurgopinus rufipes}
\tl{755.3}{1354}{Pteleobius vittatus}
\tl{766.2}{1369.8}{Pseudohylesinus cf. nebulosus}
\tl{900}{1384.9}{Amphicranus sp. 2}
\tl{901.9}{1399.1}{Tricolus sp. 1}
\tl{881.3}{1413.3}{Monarthrum mali}
\tl{914.2}{1428.8}{Amphicranus sp. 1}
\tl{866.4}{1443.3}{Tricolus sp. 2}
\tl{901.9}{1457.4}{Corthylus rubricollis}
\tl{875.7}{1472.9}{Gnathotrichus materiarius}
\tl{883.2}{1487.4}{Corthylini genus?}
\tl{832.7}{1502.2}{Pityophthorus micrographus}
\tl{812.1}{1518}{Pseudopityophthorus yadapaii}
\tl{781.1}{1532.2}{Araptus declivis}
\tl{820.7}{1546.3}{Dendroterus defectus}
% ---------- support stars left
\st{178}{27.1}{*}\st{102}{38.8}{*}\st{100}{73}{\ds}\st{96.4}{119}{*}\st{66.5}{147.2}{*}
\st{170}{206.7}{\ds}\st{225.4}{240.7}{\ds}\st{126.4}{223.7}{\ds}\st{95.3}{253.2}{\ds}
\st{164.5}{271.6}{\ds}\st{129}{282.8}{\ds}\st{62.8}{285.5}{\ds}\st{123.4}{317.7}{\ds}
\st{254}{348.7}{\ds}\st{203.7}{359.9}{\ds}\st{96.4}{373}{*}\st{241}{409.9}{\ds}
\st{137.6}{421}{*}\st{93.5}{434}{\ds}\st{155}{470.5}{\ds}\st{55.3}{421.8}{*}
\st{187}{512.2}{\ds}\st{144}{526.1}{\ds}\st{90.5}{540.8}{\ds}\st{121.5}{576.5}{\ds}\st{71}{602.9}{\ds}
\st{223.5}{640}{\ds}\st{164.5}{663.5}{*}\st{187}{699.1}{\ds}\st{160}{710.5}{\ds}\st{109}{687}{\ds}\st{66.5}{712.1}{\ds}
\st{119}{759.8}{\ds}\st{93}{771.2}{\ds}
\st{164.5}{851.4}{\ds}\st{175}{883.4}{\ds}\st{125}{867.4}{\ds}\st{66.5}{886.6}{\ds}
\st{357}{929.1}{\ds}\st{210.5}{940.3}{\ds}\st{119}{953.3}{*}
\st{245}{1005.2}{\ds}\st{189}{1016.5}{\ds}\st{146}{1065.8}{*}
\st{183}{1111.8}{\ds}\st{86.7}{1123.4}{\ds}\st{182.4}{1158}{\ds}\st{67.3}{1169.4}{\ds}
\st{170}{1234.6}{\ds}\st{137.6}{1265.2}{\ds}
\st{109.2}{1383.5}{\ds}\st{155}{1372}{\ds}\st{35.5}{1400.5}{\ds}\st{172.7}{1417.6}{\ds}\st{170}{1448.3}{\ds}\st{13}{1479.3}{*}
% ---------- support stars right
\st{781.1}{25.5}{*}\st{755.3}{63.9}{*}\st{729.2}{85.2}{\ds}\st{701.9}{103.3}{\ds}\st{683.8}{119.5}{\ds}
\st{729.2}{158.4}{\ds}\st{686.9}{169.5}{\ds}\st{660.8}{144.5}{\ds}\st{759.1}{231.8}{\ds}\st{722.4}{234.4}{*}
\st{692.5}{255.2}{\ds}\st{651.4}{275.8}{\ds}\st{627.1}{210.2}{\ds}\st{707.5}{318.9}{\ds}\st{751.6}{377.6}{\ds}
\st{679.4}{388.7}{\ds}\st{654.4}{366}{\ds}\st{761.7}{423}{*}\st{732.9}{433.8}{\ds}\st{759.1}{481.3}{\ds}
\st{683.9}{464}{*}\st{661.5}{483}{\ds}\st{632.7}{424.5}{\ds}\st{603.9}{317.3}{\ds}
\st{732.9}{524.4}{\ds}\st{711.2}{554}{*}\st{730.7}{584}{\ds}\st{675.7}{561.6}{\ds}\st{688}{613.2}{\ds}
\st{632.7}{587.4}{\ds}\st{590.5}{452.3}{*}
\st{801.7}{642.8}{*}\st{765.4}{653.5}{\ds}\st{713.1}{665.7}{\ds}\st{724.3}{700.2}{\ds}\st{682}{683}{\ds}
\st{632.7}{703}{*}\st{721.3}{746}{\ds}\st{699.3}{774.8}{\ds}\st{640.2}{760.4}{\ds}\st{612.2}{731.7}{*}
\st{886.9}{834}{\ds}\st{761.7}{819.3}{\ds}\st{782.2}{863.4}{\ds}\st{719.4}{874.3}{\ds}\st{621.5}{846.8}{\ds}
\st{714.2}{918}{\ds}\st{733.6}{951.8}{\ds}\st{679.4}{934.9}{\ds}\st{706.4}{980.8}{\ds}\st{743}{1010.3}{\ds}
\st{662.6}{995.5}{\ds}\st{610.3}{965.2}{\ds}
\st{703}{1039}{\ds}\st{623.4}{1072}{*}\st{672}{1112.6}{*}\st{640.2}{1123.5}{\ds}
\st{710.1}{1157.2}{\ds}\st{714.2}{1186.6}{\ds}\st{693.6}{1171.9}{\ds}\st{675.7}{1189.7}{\ds}
\st{742.2}{1230.4}{\ds}\st{697.4}{1260}{\ds}\st{673.8}{1245.2}{\ds}\st{660.8}{1263.4}{\ds}\st{633.8}{1226.6}{\ds}
\st{720.6}{1304.9}{\ds}\st{714.2}{1333.1}{\ds}\st{640.2}{1319}{*}
\st{802.8}{1436}{\ds}\st{775.9}{1417.5}{\ds}\st{736.6}{1437.5}{\ds}\st{731}{1480.1}{*}\st{704.9}{1458.8}{*}
\st{656.3}{1508.4}{\ds}\st{608.4}{1527.4}{\ds}
\end{axis}
\pgfresetboundingbox
\path (0,0) rectangle (1135pt,1568pt);
\end{tikzpicture}
\end{document}
